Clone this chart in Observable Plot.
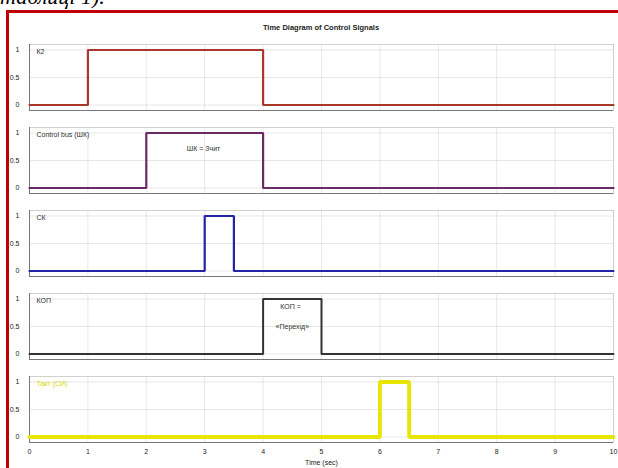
<!DOCTYPE html>
<html>
<head>
<meta charset="utf-8">
<script src="https://cdn.jsdelivr.net/npm/d3@7"></script>
<script src="https://cdn.jsdelivr.net/npm/@observablehq/plot@0.6"></script>
<style>
  html, body { margin: 0; padding: 0; background: #fff; width: 618px; height: 468px; overflow: hidden; position: relative; }
  #doc { position: absolute; left: 0px; top: -14px; font-family: "Liberation Serif", serif; font-style: italic; font-size: 22px; line-height: 22px; color: #000; white-space: nowrap; }
  #frame { position: absolute; left: 6px; top: 9.5px; width: 700px; height: 600px; border-left: 3px solid #c00000; border-top: 3px solid #c00000; box-sizing: border-box; }
  #title { position: absolute; left: 29px; width: 584px; top: 23px; text-align: center; font-family: "Liberation Sans", Arial, sans-serif; font-weight: bold; font-size: 7.5px; color: #222; }
  #chart { position: absolute; left: 0; top: 0; }
</style>
</head>
<body>
<div id="doc">таблиці 1).</div>
<div id="frame"></div>
<div id="chart"></div>
<div id="title">Time Diagram of Control Signals</div>
<script>
// Signals (step-after change points)
const signals = ["К2", "Control bus (ШК)", "СК", "КОП", "Такт (СИ)"];
const colors = ["#a8372c", "#6a2a62", "#2323a6", "#333333", "#e6e600"];
const widths = [2.2, 2.2, 2.2, 2, 3.8];

const k2T = [0, 1, 4, 10];   const k2V = [0, 1, 0, 0];
const shkT = [0, 2, 4, 10];  const shkV = [0, 1, 0, 0];
const skT = [0, 3, 3.5, 10]; const skV = [0, 1, 0, 0];
const kopT = [0, 4, 5, 10];  const kopV = [0, 1, 0, 0];
const tiT = [0, 6, 6.5, 10]; const tiV = [0, 1, 0, 0];

const xTicks = [0, 1, 2, 3, 4, 5, 6, 7, 8, 9, 10];
const yTicks = [0, 0.5, 1];
const yTickLabels = ["0", "0.5", "1"];

// Annotations inside panels
const noteSignals = ["Control bus (ШК)", "КОП", "КОП"];
const noteText = ["ШК = Зчит", "КОП =", "«Перехід»"];
const noteT = [2.98, 4.47, 4.5];
const noteV = [0.71, 0.86, 0.5];

const series = [
  [k2T, k2V], [shkT, shkV], [skT, skV], [kopT, kopV], [tiT, tiV]
];

const lineMarks = series.map(([ts, vs], i) =>
  Plot.line(ts.map((t, j) => ({signal: signals[i], t, v: vs[j]})), {
    x: "t", y: "v", fy: "signal", curve: "step-after",
    stroke: colors[i], strokeWidth: widths[i], strokeLinejoin: "miter"
  })
);

const labelData = signals.map((s, i) => ({signal: s, color: colors[i]}));
const noteData = noteText.map((text, i) => ({signal: noteSignals[i], text, t: noteT[i], v: noteV[i]}));

const chart = Plot.plot({
  width: 618,
  height: 468,
  marginLeft: 29,
  marginRight: 5,
  marginTop: 43.5,
  marginBottom: 25.5,
  style: {fontFamily: "'Liberation Sans', Arial, sans-serif", fontSize: "7px", background: "transparent", color: "#222"},
  x: {domain: [0, 10], ticks: xTicks, tickSize: 0, tickPadding: 7, grid: true,
      label: "Time (sec)", labelAnchor: "center", labelArrow: "none", labelOffset: 22},
  y: {domain: [-0.1, 1.1], ticks: yTicks, tickFormat: (d) => yTickLabels[yTicks.indexOf(d)],
      tickSize: 0, tickPadding: 10, grid: true, label: null},
  fy: {domain: signals, axis: null, paddingInner: 0.2, paddingOuter: 0, label: null},
  marks: [
    Plot.frame({stroke: "#d0d0d0"}),
    Plot.ruleX([0], {stroke: "#777"}),
    Plot.ruleY([-0.1], {stroke: "#777"}),
    ...lineMarks,
    Plot.text(labelData, {
      fy: "signal", frameAnchor: "top-left", dx: 7, dy: 5,
      text: "signal", fill: (d) => d.signal === "Такт (СИ)" ? "#d8d800" : "#333", fontSize: 7
    }),
    Plot.text(noteData, {x: "t", y: "v", fy: "signal", text: "text", fill: "#333", fontSize: 7})
  ]
});
document.getElementById("chart").appendChild(chart);
</script>
</body>
</html>
